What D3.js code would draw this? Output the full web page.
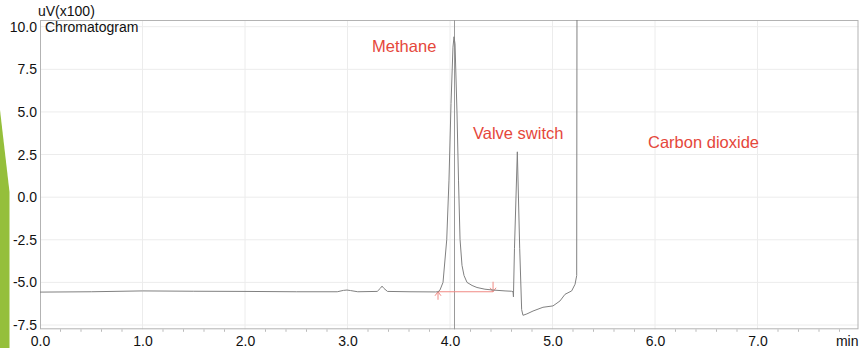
<!DOCTYPE html>
<html>
<head>
<meta charset="utf-8">
<script src="https://cdn.jsdelivr.net/npm/d3@7"></script>
<style>
  body { margin: 0; background: #fff; }
  svg { display: block; font-family: "Liberation Sans", Arial, Helvetica, sans-serif; }
  .tick text { font-size: 14px; fill: #111; }
</style>
</head>
<body>
<div id="chart"></div>
<script>
/* Chromatogram trace: time in min, signal in uV(x100). */
var times = [0, 0.5, 1.0, 1.5, 2.0, 2.5, 2.9, 2.96, 2.995, 3.03, 3.1, 3.29, 3.32, 3.337, 3.355, 3.39, 3.6, 3.86,
             3.883, 3.902, 3.932, 3.968, 3.990, 4.010, 4.029, 4.039, 4.049, 4.068, 4.083, 4.098, 4.117, 4.137,
             4.166, 4.215, 4.263, 4.341, 4.420, 4.537, 4.60, 4.615, 4.619, 4.629, 4.657, 4.680, 4.699, 4.712,
             4.75, 4.810, 4.907, 5.005, 5.073, 5.122, 5.187, 5.220, 5.236, 5.239];
var signal = [-5.57, -5.55, -5.50, -5.52, -5.53, -5.55, -5.55, -5.47, -5.45, -5.48, -5.55, -5.53, -5.35, -5.22, -5.35, -5.53, -5.55, -5.56,
              -5.55, -5.45, -5.0, -2.5, 1.0, 5.5, 8.8, 9.41, 9.0, 5.0, 1.0, -2.48, -4.0, -4.6,
              -5.0, -5.18, -5.3, -5.4, -5.45, -5.5, -5.52, -5.55, -5.85, -3.0, 2.66, -3.0, -6.6, -6.93,
              -6.85, -6.68, -6.46, -6.38, -6.09, -5.70, -5.50, -5.11, -4.6, 11.5];

var xTicks = [0, 1, 2, 3, 4, 5, 6, 7, 8];
var xTickLabels = ["0.0", "1.0", "2.0", "3.0", "4.0", "5.0", "6.0", "7.0", "min"];
var yTicks = [10, 7.5, 5, 2.5, 0, -2.5, -5, -7.5];
var yTickLabels = ["10.0", "7.5", "5.0", "2.5", "0.0", "-2.5", "-5.0", "-7.5"];

var peakMarkerTime = 4.044;
var integrationStart = 3.883, integrationEnd = 4.420, integrationLevel = -5.55;

var noteText = ["Methane", "Valve switch", "Carbon dioxide"];
var noteTime = [3.24, 4.224, 5.932];
var noteLevel = [8.51, 3.41, 2.88];

var width = 859, height = 348;
var plot = {left: 40, right: 858.5, top: 20, bottom: 329.3};

var x = d3.scaleLinear().domain([0, 8]).range([40, 860]);
var y = d3.scaleLinear().domain([-7.5, 10]).range([325, 26.7]);

var svg = d3.select("#chart").append("svg")
    .attr("width", width)
    .attr("height", height);

/* green slide decoration on the left */
svg.append("path")
    .attr("d", "M0,110 L9.5,192 L9.5," + height + " L0," + height + " Z")
    .attr("fill", "#95bf3b");

svg.append("defs").append("clipPath").attr("id", "clip")
  .append("rect")
    .attr("x", plot.left).attr("y", plot.top)
    .attr("width", plot.right - plot.left).attr("height", plot.bottom - plot.top);

/* grid */
svg.append("g").selectAll("line")
    .data(xTicks.slice(1, 8))
  .enter().append("line")
    .attr("x1", function(d) { return x(d); }).attr("x2", function(d) { return x(d); })
    .attr("y1", plot.top).attr("y2", plot.bottom)
    .attr("stroke", "#ececec");

svg.append("g").selectAll("line")
    .data(yTicks)
  .enter().append("line")
    .attr("x1", plot.left).attr("x2", plot.right)
    .attr("y1", function(d) { return y(d); }).attr("y2", function(d) { return y(d); })
    .attr("stroke", "#ececec");

/* minor ticks every 0.2 min */
svg.append("g").selectAll("line")
    .data(d3.range(1, 40).filter(function(i) { return i % 5 !== 0; }))
  .enter().append("line")
    .attr("x1", function(i) { return x(i * 0.2); }).attr("x2", function(i) { return x(i * 0.2); })
    .attr("y1", plot.bottom).attr("y2", plot.bottom + 2.5)
    .attr("stroke", "#bbb");

/* plot frame */
svg.append("rect")
    .attr("x", plot.left + 0.5).attr("y", plot.top + 0.5)
    .attr("width", plot.right - plot.left - 1).attr("height", plot.bottom - plot.top - 1)
    .attr("fill", "none")
    .attr("stroke", "#b3b3b3");

/* axes */
var xAxis = d3.axisBottom(x)
    .tickValues(xTicks)
    .tickSize(0)
    .tickPadding(7)
    .tickFormat(function(d, i) { return xTickLabels[i]; });

var gx = svg.append("g")
    .attr("transform", "translate(0," + plot.bottom + ")")
    .call(xAxis);
gx.select(".domain").remove();
gx.selectAll(".tick text")
    .filter(function(d) { return d === 8; })
    .attr("text-anchor", "end")
    .attr("dx", -2);

var yAxis = d3.axisLeft(y)
    .tickValues(yTicks)
    .tickSize(0)
    .tickPadding(3)
    .tickFormat(function(d, i) { return yTickLabels[i]; });

var gy = svg.append("g")
    .attr("transform", "translate(" + plot.left + ",0)")
    .call(yAxis);
gy.select(".domain").remove();

/* titles */
svg.append("text")
    .attr("x", 38).attr("y", 15.5)
    .attr("font-size", 14).attr("fill", "#111")
    .text("uV(x100)");
svg.append("text")
    .attr("x", 45).attr("y", 31.5)
    .attr("font-size", 14).attr("fill", "#111")
    .text("Chromatogram");

/* peak retention marker */
svg.append("line")
    .attr("x1", x(peakMarkerTime)).attr("x2", x(peakMarkerTime))
    .attr("y1", plot.top).attr("y2", plot.bottom)
    .attr("stroke", "#9a9a9a");

/* integration baseline with arrows */
var red = "#f08a84";
var integ = svg.append("g").attr("stroke", red).attr("fill", "none").attr("stroke-width", 1);
integ.append("line")
    .attr("x1", x(integrationStart)).attr("x2", x(integrationEnd))
    .attr("y1", y(integrationLevel)).attr("y2", y(integrationLevel));
var xs = x(integrationStart), xe = x(integrationEnd), yl = y(integrationLevel);
integ.append("path")
    .attr("d", "M" + xs + "," + (yl + 8) + " L" + xs + "," + yl +
               " M" + (xs - 3) + "," + (yl + 4) + " L" + xs + "," + yl + " L" + (xs + 3) + "," + (yl + 4));
integ.append("path")
    .attr("d", "M" + xe + "," + (yl - 10) + " L" + xe + "," + yl +
               " M" + (xe - 3) + "," + (yl - 4) + " L" + xe + "," + yl + " L" + (xe + 3) + "," + (yl - 4));

/* trace */
var line = d3.line()
    .x(function(d, i) { return x(times[i]); })
    .y(function(d) { return y(d); });

svg.append("path")
    .datum(signal)
    .attr("clip-path", "url(#clip)")
    .attr("d", line)
    .attr("fill", "none")
    .attr("stroke", "#808080")
    .attr("stroke-width", 1);

/* annotations */
svg.append("g").selectAll("text")
    .data(noteText)
  .enter().append("text")
    .attr("x", function(d, i) { return x(noteTime[i]); })
    .attr("y", function(d, i) { return y(noteLevel[i]); })
    .attr("font-size", 16.5)
    .attr("fill", "#e5473b")
    .text(function(d) { return d; });
</script>
</body>
</html>
